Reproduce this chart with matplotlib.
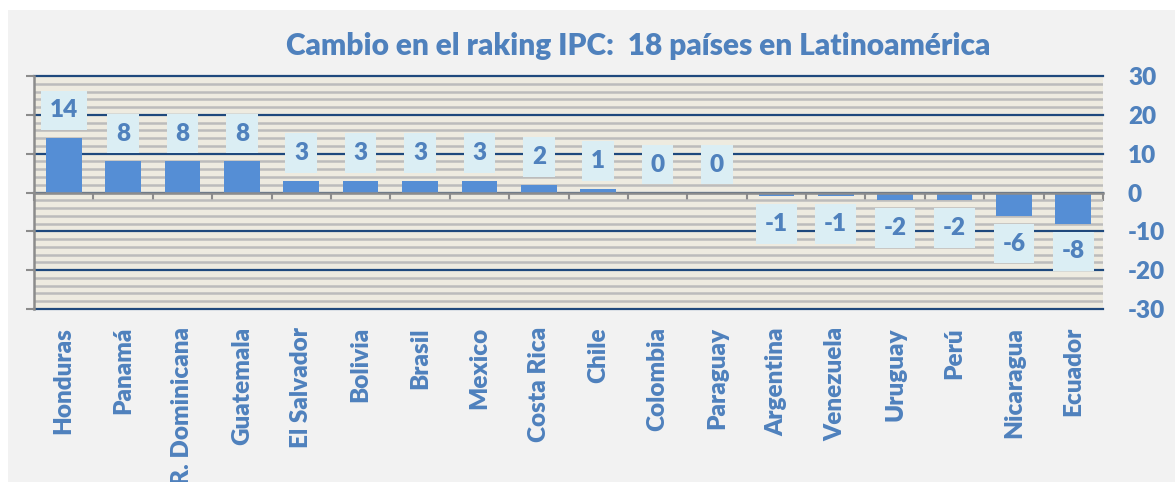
import matplotlib
matplotlib.use("Agg")
import matplotlib.pyplot as plt
from matplotlib.ticker import MultipleLocator
import numpy as np

countries = ["Honduras", "Panamá", "R. Dominicana", "Guatemala", "El Salvador", "Bolivia",
             "Brasil", "Mexico", "Costa Rica", "Chile", "Colombia", "Paraguay",
             "Argentina", "Venezuela", "Uruguay", "Perú", "Nicaragua", "Ecuador"]
changes = [14, 8, 8, 8, 3, 3, 3, 3, 2, 1, 0, 0, -1, -1, -2, -2, -6, -8]
y_ticks = [-30, -20, -10, 0, 10, 20, 30]
title = "Cambio en el raking IPC:  18 países en Latinoamérica"

plt.rcParams["axes.unicode_minus"] = False

BLUE_TXT = "#4f81bd"
BAR = "#558ed5"
NAVY = "#1f497d"
GRAY = "#8c8c8c"
FONT = "Lato"
WEIGHT = "heavy"

fig = plt.figure(figsize=(11.75, 4.82), dpi=100)
fig.patch.set_facecolor("white")
W, H = 1175, 482
# gray chart area
fig.patches.append(plt.Rectangle((8 / W, 0), 1, 1 - 10 / H, transform=fig.transFigure,
                                 facecolor="#f2f2f2", edgecolor="none", zorder=-10))

ax = fig.add_axes([34 / W, 1 - 309 / H, (1103 - 34) / W, (309 - 76) / H])
ax.set_facecolor("#eeebe0")

x = np.arange(len(countries))
ax.bar(x, changes, width=0.6, color=BAR, zorder=2)
ax.set_xlim(-0.5, len(countries) - 0.5)
ax.set_ylim(y_ticks[0], y_ticks[-1])

# grid
ax.set_yticks(y_ticks)
ax.yaxis.set_minor_locator(MultipleLocator(2))
ax.set_axisbelow(True)
ax.grid(axis="y", which="minor", color="#bcbcbc", lw=1.8, zorder=0.5)
ax.grid(axis="y", which="major", color=NAVY, lw=1.6, zorder=0.6)
for gl in ax.get_ygridlines():
    gl.set_clip_on(False)

# spines
for s in ["top", "right"]:
    ax.spines[s].set_visible(False)
ax.spines["left"].set_color(GRAY)
ax.spines["left"].set_linewidth(1.8)
ax.spines["bottom"].set_position(("data", 0))
ax.spines["bottom"].set_color(GRAY)
ax.spines["bottom"].set_linewidth(1.8)
ax.spines["bottom"].set_zorder(3)

# y axis: ticks left, labels right
ax.tick_params(axis="y", which="major", left=True, right=False, labelleft=False,
               labelright=True, length=6, width=1.5, color=GRAY, pad=12,
               labelcolor=BLUE_TXT, labelsize=17.5)
ax.tick_params(axis="y", which="minor", left=False, right=False)
for lab in ax.get_yticklabels():
    lab.set_fontfamily(FONT)
    lab.set_fontweight(WEIGHT)
    lab.set_horizontalalignment("left")

# x axis: tick marks on zero line at category boundaries
ax.set_xticks(np.arange(len(countries) + 1) - 0.5)
ax.tick_params(axis="x", which="major", direction="out", length=6, width=1.5,
               color=GRAY, labelbottom=False)

sec = ax.secondary_xaxis(0)
sec.set_xticks(x, countries)
sec.tick_params(axis="x", length=0, pad=13, labelsize=17.5, labelcolor=BLUE_TXT)
sec.spines["bottom"].set_visible(False)
for lab in sec.get_xticklabels():
    lab.set_rotation(90)
    lab.set_fontfamily(FONT)
    lab.set_fontweight(WEIGHT)

# data labels
for xi, v in zip(x, changes):
    off = 20 if v >= 0 else -20
    ax.annotate(f"{v}", xy=(xi, v), xytext=(0, off), textcoords="offset points",
                ha="center", va="center", fontsize=17.5, fontweight=WEIGHT,
                fontfamily=FONT, color=BLUE_TXT, zorder=5,
                bbox=dict(boxstyle="square,pad=0.36", facecolor="#dbeef4",
                          edgecolor="none"))

fig.text(638 / W, 1 - 46 / H, title, ha="center", va="center", fontsize=21.5,
         fontweight=WEIGHT, fontfamily=FONT, color=BLUE_TXT)

fig.savefig("out.png", dpi=100)
